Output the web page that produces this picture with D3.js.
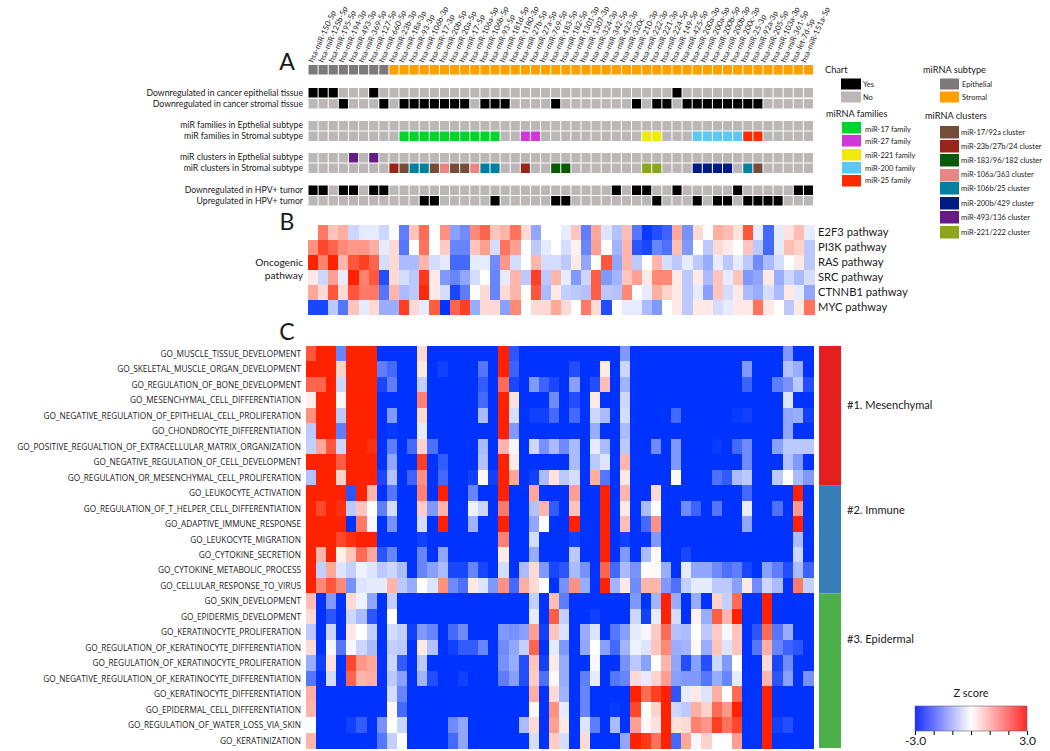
<!DOCTYPE html>
<html><head><meta charset="utf-8">
<script src="https://cdn.jsdelivr.net/npm/d3@7/dist/d3.min.js"></script>
<style>html,body{margin:0;padding:0;background:#fff}svg{display:block}text{font-family:Lato,sans-serif;fill:#1a1a1a}</style>
</head><body><svg id="chart" width="1050" height="751"></svg>
<script>
const mirnas=["hsa-miR-150-5p","hsa-miR-125b-5p","hsa-miR-195-5p","hsa-miR-194-3p","hsa-miR-493-3p","hsa-miR-369-5p","hsa-miR-127-5p","hsa-miR-660-5p","hsa-miR-23b-3p","hsa-miR-18a-3p","hsa-miR-93-3p","hsa-miR-106b-3p","hsa-miR-17-3p","hsa-miR-20b-5p","hsa-miR-20a-5p","hsa-miR-17-5p","hsa-miR-106a-5p","hsa-miR-106b-5p","hsa-miR-93-5p","hsa-miR-181d-5p","hsa-miR-1180-3p","hsa-miR-27b-5p","hsa-miR-27a-5p","hsa-miR-769-5p","hsa-miR-183-5p","hsa-miR-182-5p","hsa-miR-1301-3p","hsa-miR-1307-3p","hsa-miR-324-3p","hsa-miR-342-5p","hsa-miR-423-3p","hsa-miR-320c","hsa-miR-210-3p","hsa-miR-222-3p","hsa-miR-221-3p","hsa-miR-224-5p","hsa-miR-149-5p","hsa-miR-425-5p","hsa-miR-200a-3p","hsa-miR-200a-5p","hsa-miR-200b-5p","hsa-miR-200b-3p","hsa-miR-200c-3p","hsa-miR-25-3p","hsa-miR-92a-3p","hsa-miR-205-5p","hsa-miR-103a-3p","hsa-miR-361-5p","hsa-let-7d-5p","hsa-miR-151a-5p"];

// Panel A: column indices flagged in each annotation row
const epithelialColumns=[0,1,2,3,4,5,6,7];
const downEpithelial=[0,1,2,6,36];
const downStromal=[3,7,9,10,11,12,13,14,15,17,18,19,24,32,34,35,37,38,39,40,41,42,43,44];
const hpvDown=[0,1,3,4,6,7,30,32,33,36,42,48,49];
const hpvUp=[11,12,18,24,25,34,38,40,41,43,44,45,46];
const familyGroups=[["miR-17 family",[9,10,11,12,13,14,15,16,17,18]],["miR-27 family",[21,22]],["miR-221 family",[33,34]],["miR-200 family",[38,39,40,41,42]],["miR-25 family",[43,44]]];
const clusterGroups=[["miR-17/92a cluster",[9,12,14,15,44]],["miR-23b/27b/24 cluster",[8,21]],["miR-183/96/182 cluster",[24,25]],["miR-106a/363 cluster",[13,16]],["miR-106b/25 cluster",[10,11,17,18,43]],["miR-200b/429 cluster",[38,39,40,41]],["miR-493/136 cluster",[4,6]],["miR-221/222 cluster",[33,34]]];
const aLabels=["Downregulated in cancer epithelial tissue","Downregulated in cancer stromal tissue","miR families in Epthelial subtype","miR families in Stromal subtype","miR clusters in Epthelial subtype","miR clusters in Stromal subtype","Downregulated in HPV+ tumor","Upregulated in HPV+ tumor"];

// Panel B
const pathways=["E2F3 pathway","PI3K pathway","RAS pathway","SRC pathway","CTNNB1 pathway","MYC pathway"];
const e2f3=[0,1.8,.8,1.1,-.6,-.3,-.3,-.6,0,-1.9,.8,2,0,1.5,-1.4,-1.7,1.6,2.1,.8,1,1.9,.5,-1.3,0,0,-.3,.8,-1.9,1.2,-.4,-.9,.9,-2,-2.9,-2.6,-2.3,1.2,-1.6,.5,0,1.1,.9,.4,2.3,-.3,-2.2,-.3,.4,.9,-.3];
const pi3k=[1.5,2.5,2.1,1.6,1.4,1.4,1.1,-.3,.5,-2,0,1.9,0,.7,-1.8,-1.8,.8,1.3,-.5,1.9,1.3,0,-.8,-.3,0,-.5,.2,-1.8,1.3,0,-1.1,1,-2.5,-2.7,-1.8,-2.1,.9,-1.5,0,-.8,.5,.3,0,.8,-.8,-2.2,-.3,.9,.6,-.8];
const ras=[3,1.7,3,1,2.3,2.6,2.1,-.5,.5,-1,-1,1,-.5,-.3,-2.2,-2.2,-.3,-.3,-1.7,1.4,-.5,0,1,-.5,-.5,-.8,.3,-1.3,0,2.3,-1.3,1,-.8,0,1,-.5,-.8,-.3,-.8,-1.2,-.3,-.8,-.3,-.8,-1.7,-1,-.5,0,.3,-.8];
const src=[.3,-.6,1.3,-.3,3,1.7,2.3,-2.6,.5,-.5,-.8,2.7,.3,-1.5,-1.8,-1.3,-.5,0,-1.8,-.3,1,-.8,2.6,-.8,1,-.3,-1.5,-.6,2.2,-1.5,-1.1,.8,1.3,.3,1.6,1.6,.3,-.8,.3,-1,.8,-.3,.8,-1.5,-1.3,.3,-1.2,-.6,-1,-.5];
const ctnnb1=[1.2,.5,2.3,.5,2.3,1.8,1.8,-2,1,-1,-.8,2.9,.3,-.5,-2.7,-1.9,0,.5,-1.8,.5,1,0,2.3,-1,.3,-.7,-.8,-.9,2.2,-.8,-.9,1.6,0,-.3,1.1,.6,.3,-.8,-.3,-1.4,.8,-.5,.3,-1,-1.2,-.5,-1,.3,-.3,-1.3];
const myc=[-2.7,-2.7,-.8,-2,.8,-.3,.5,-1.2,-1.2,2.6,.5,-.3,2.2,-3,2.1,2.6,-1.2,.5,.5,-1.4,1.6,0,.5,.5,1.2,.5,0,1.8,.5,-2.6,0,-.3,-.3,-1,-1.5,0,.3,-.8,.3,.3,-.5,-.3,.3,.3,1.9,.3,0,-.8,.3,1.9];
const pathwayValues=[e2f3,pi3k,ras,src,ctnnb1,myc];

// Panel C
const goTerms=["GO_MUSCLE_TISSUE_DEVELOPMENT","GO_SKELETAL_MUSCLE_ORGAN_DEVELOPMENT","GO_REGULATION_OF_BONE_DEVELOPMENT","GO_MESENCHYMAL_CELL_DIFFERENTIATION","GO_NEGATIVE_REGULATION_OF_EPITHELIAL_CELL_PROLIFERATION","GO_CHONDROCYTE_DIFFERENTIATION","GO_POSITIVE_REGUALTION_OF_EXTRACELLULAR_MATRIX_ORGANIZATION","GO_NEGATIVE_REGULATION_OF_CELL_DEVELOPMENT","GO_REGULATION_OR_MESENCHYMAL_CELL_PROLIFERATION","GO_LEUKOCYTE_ACTIVATION","GO_REGULATION_OF_T_HELPER_CELL_DIFFERENTIATION","GO_ADAPTIVE_IMMUNE_RESPONSE","GO_LEUKOCYTE_MIGRATION","GO_CYTOKINE_SECRETION","GO_CYTOKINE_METABOLIC_PROCESS","GO_CELLULAR_RESPONSE_TO_VIRUS","GO_SKIN_DEVELOPMENT","GO_EPIDERMIS_DEVELOPMENT","GO_KERATINOCYTE_PROLIFERATION","GO_REGULATION_OF_KERATINOCYTE_DIFFERENTIATION","GO_REGULATION_OF_KERATINOCYTE_PROLIFERATION","GO_NEGATIVE_REGULATION_OF_KERATINOCYTE_DIFFERENTIATION","GO_KERATINOCYTE_DIFFERENTIATION","GO_EPIDERMAL_CELL_DIFFERENTIATION","GO_REGULATION_OF_WATER_LOSS_VIA_SKIN","GO_KERATINIZATION"];
const goScores=[
[2.3,3,3,-1.8,3,3,3,-3,-3,-3, -3,.5,-3,-3,-3,-3,-3,-3,-3,3, -2.5,-3,-3,-3,-3,-3,-3,-3,-3,-3, -3,-1.5,-3,-3,-3,-3,-3,-3,-3,-3, -3,-3,-3,-3,-3,-3,-3,-1.5,-3,-3],
[3,3,3,.6,3,3,3,-1.9,-2.2,-3, -3,.3,-3,-2.8,-3,-3,-3,-2,-3,3, -2.3,-3,-3,-3,-3,-3,-2.6,-3,-3,.3, -3,-.6,-3,-3,-3,-3,-3,-3,-3,-3, -3,-3,-3,-1.5,-3,-3,-3,-.9,-1.2,-3],
[2.1,2.1,3,-.6,3,3,3,-2.7,-1.9,-3, -3,-.7,-3,-3,-3,-3,-3,-2.4,-3,2, -2.7,-3,-1.5,-2.3,-2.7,-3,-1.4,-3,-2.6,.9, -3,-1.1,-3,-3,-3,-3,-3,-3,-3,-3, -3,-3,-3,-2.3,-3,-3,-1.9,-1.6,-.8,-2.6],
[.2,3,3,.1,3,3,3,-3,-3,-3, -3,1.7,-3,-3,-3,-3,-3,-2.2,-3,3, .4,-3,-3,-3,-1.7,-3,-2.6,-3,.3,-3, -3,-.6,-3,-3,-3,-3,-3,-3,-3,-3, -3,-3,-3,-3,-3,-3,-3,-.4,-3,-3],
[1.5,3,3,-.8,3,3,3,-3,-1.5,-3, -3,.5,-3,-3,-3,-3,-3,-1,-3,3, -.5,-3,-2.8,-2.8,-2.2,-3,-2.2,-3,-.6,-1, -3,-.5,-3,-3,-3,-3,-2.2,-3,-3,-3, -3,-3,-2.9,-2.8,-3,-3,-3,-1.3,-1.2,-2.8],
[-.8,3,3,-1.9,3,3,3,-3,-2.9,-3, -3,-.3,-3,-3,-3,-3,-3,-3,-3,3, -1.5,-3,-3,-3,-3,-3,-3,-3,-1.2,-3, -3,-1,-3,-3,-3,-3,-3,-3,-3,-3, -3,-3,-3,-3,-3,-3,-3,-1.3,-3,-3],
[-.7,1.2,2.3,-.6,3,3,2.8,-3,-1.9,-3, -2.2,.6,-2.1,-3,-3,-3,-3,-1,-3,1, -.1,-3,-.6,-1.6,-1,-1.7,-1,-3,-.3,-1, -3,-.8,-3,-3,-1.7,-3,-1.5,-3,-3,-3, -2.9,-3,-2.2,-1.7,-3,-3,-1.4,-.8,-.8,-.8],
[3,3,3,2.2,3,3,3,-3,-1.3,-3, -3,2.6,-3,-2.4,-3,-3,-3,-.9,-3,3, .3,-3,-3,-3,-3,-3,-1,-3,-.8,-.4, -3,1,-3,-3,-3,-3,-1.5,-3,-3,-3, -3,-3,-3,-1.7,-3,-3,-3,-.9,-1.5,-3],
[-.9,3,3,.6,3,3,3,-2.7,-.9,-3, -2.3,1.5,-3,-2.2,-3,-3,-2.8,.1,-2.8,3, 1.2,-3,-2.8,-1,.4,-.8,-.5,-3,1.1,-2, -3,.3,-3,-3,-3,-3,.1,-3,-3,-3, -2.1,-2.4,-1,-.8,-3,-3,-.8,0,-1,-1.5],
[3,3,3,3,-2.5,3,1,-3,-2,-3, -3,1.7,-3,3,-3,-3,-1.8,-3,-3,3, -3,-3,1.2,-3,-3,-3,1.3,-3,-3,3, -3,1,-3,-3,.5,-3,-3,-3,-3,-3, -3,-3,-3,-2.2,-3,-3,-3,-3,3,-3],
[3,2.5,3,2.8,-.8,.8,0,-1.9,-.5,-3, -3,.7,-1.5,1,-3,-3,-.2,-.6,-3,1.8, -3,-3,-.9,1,-2.4,-3,.8,-3,-3,3, -3,.3,-3,-1,0,-3,-3,-1.7,-2.3,-3, -2,-3,-3,-.3,-3,-3,-2.1,-3,1.4,-3],
[3,3,3,3,-3,1.8,-.1,-3,-1.6,-3, -3,-.5,-3,3,-3,-3,-1.1,-3,-3,3, -3,-3,-1.3,0,-3,-3,3,-3,-3,3, -3,.9,-3,-2.2,1.5,-3,-3,-3,-3,-3, -3,-3,-3,-1.3,-3,-3,-3,-3,3,-3],
[3,3,3,2.5,2.8,3,3,-3,-3,-3, -3,-2.8,-3,-3,-3,-3,-3,-3,-3,1.7, -3,-3,-.5,-3,-3,-3,-2.8,-3,-3,3, -3,-2.8,-3,-3,-1.5,-3,-3,-3,-3,-3, -3,-3,-3,-3,-3,-3,-3,-3,-1,-3],
[3,1,3,.2,.8,2,1.2,-2.5,-1.8,-3, -3,-1.8,-3,-1.3,-3,-3,-3,-3,-3,.3, -3,-3,-1.2,-3,-3,-3,-.8,-3,-3,3, -3,-1.5,-3,-1,.1,-3,-3,-2.7,-3,-3, -3,-3,-3,-3,-3,-3,-3,-3,-.6,-3],
[3,-.7,1.2,-.4,-.7,-.2,-.4,-.8,-.6,-1, -3,-1.8,-1.4,-1,-2.7,-2.7,-1.8,-2.7,-3,-.5, -3,-1,.5,-1.5,-2.7,-2.5,-1,-1.6,-3,2.1, -2.2,-1,-1.6,0,.1,-1.2,-3,-.3,-1.3,-1.3, -1.7,-2.1,-1.9,-2.7,-3,-1.4,-1.9,-2.6,-1,-2.3],
[3,1.6,2.3,1.6,-1.6,-.4,-.3,-.3,1,-.8, -1.2,0,-.4,1.5,-1.7,-2.1,.3,-.4,-1.5,1.5, -2.2,1.1,.5,0,-3,-1.6,1.5,-1.2,-3,3, -1.1,.3,-1.7,1,1,-1.5,-2.1,-.7,-.3,-.3, -.8,-.8,-1.4,.3,-1.7,-.6,-1,-3,1.8,-.7],
[.9,-3,-1.5,-3,.5,-.2,-1.3,-3,-.7,-3, -3,-3,-3,-3,-3,-3,-3,-3,-3,-3, -3,-3,-.7,-3,.9,-1.9,-3,-3,-3,-3, -3,-3,-1.5,-3,-1.1,3,-1.2,-3,-1.2,-3, .6,-.7,2,-3,-3,3,-3,-3,-3,-3],
[.5,-3,-2.5,-3,-.6,-1,-2.5,-3,0,-3, -3,-3,-3,-3,-3,-3,-3,-3,-3,-3, -3,-3,-.3,-3,2.2,-.7,-3,-3,-2.8,-3, -3,-3,-.6,-2.8,-.3,3,-.5,-3,.2,-1.2, 2.2,1,3,-3,-3,3,-3,-3,-3,-3],
[-.8,-3,-.6,-3,.3,0,-.7,-3,-.5,-.7, -2.8,-1.5,-1.8,-3,-2.2,-1.7,-3,-3,-3,-1.5, -1.6,-1.4,1.3,-2.8,.8,-.4,-3,-1.2,-.4,-3, -2,-1.4,-.3,-.1,.7,2,-.9,-1,0,-.8, .7,-.1,.8,-3,-2.5,2,-2,-1.2,-3,-3],
[.5,-3,-.1,-2,-.1,-.6,-1,-3,-.7,-.8, -3,.3,-.9,-3,-2.8,-2.4,-2.4,-1.8,-3,-1.7, -1.3,-.7,2.1,-3,-.3,-1.5,-3,-1.3,0,-1.4, -2.2,-1.1,-.2,-.4,.8,1.6,-1.2,-1.1,.1,-1.2, .8,-.4,.8,-3,-2,1.1,-1.8,-2.3,-2.5,-3],
[-1.2,-2.8,.4,-3,2.5,1.4,1.2,-3,-.6,-2.4, -3,-.8,-3,-3,-3,-3,-3,-3,-3,-1.6, -1.2,-2.6,.8,-2.8,.3,-1.2,-3,-3,-.1,-3, -3,-1.6,-.8,-1.4,0,1,-1.3,-2.6,-1.4,-2.6, -.6,-1.5,0,-3,-3,.5,-2.7,-1.7,-3,-3],
[-2,-3,-.5,-3,2.1,1,1.1,-3,-.8,-1.4, -3,-1.1,-2.6,-3,-3,-2.8,-3,-3,-3,-1.9, -1.4,-2.6,.7,-2.1,.1,-1.2,-3,-1.9,-.3,-3, -2,-1.8,.5,-.3,.6,1.3,-1.4,-1.5,-1.5,-2, -1.2,-1.8,-.3,-3,-3,1,-2.5,-1.4,-3,-1.6],
[1.1,-3,-3,-3,-3,-3,-3,-3,-.5,-1.8, -3,-3,-3,-3,-3,-3,-3,-3,-3,-3, -3,-3,1.1,-3,.5,-1.1,-3,-1.8,-3,-3, -3,-3,3,2,2.6,3,-2.5,-.3,.3,-.4, 1.1,0,2,-3,-3,3,-3,-3,-3,-3],
[1,-3,-3,-3,-3,-3,-3,-3,.1,-2.2, -3,-3,-3,-3,-3,-3,-3,-3,-3,-3, -3,-3,.1,-3,1.5,-.3,-3,-1.8,-3,-3, -2.9,-3,2.5,0,.6,3,-.6,-.8,1.1,.6, 2,1.4,3,-3,-3,3,-3,-3,-3,-3],
[0,-3,-3,-3,-2.8,-2.4,-3,-1.6,0,-.6, -3,-3,-3,-3,-1.7,-1.3,-3,-3,-3,-3, -3,-1,.5,-3,1.3,.3,-3,-.4,-1.9,-3, -1,-3,1.3,.1,.4,3,.4,.5,1.7,1.4, 2.6,1.9,2.5,-3,-3,3,-2.8,-2.6,-3,-3],
[1,-3,-3,-3,-3,-3,-3,-2,-.7,0, -3,-3,-3,-3,-2.2,-1.3,-3,-3,-3,-3, -3,-3,-.5,-3,.7,-.5,-3,.5,-3,-3, -3,-1.3,3,2.7,1.9,3,-2.2,1.2,-.1,.6, 0,0,1.3,-3,-3,3,-3,-3,-3,-3]
];
const modules=[["#1. Mesenchymal",9],["#2. Immune",7],["#3. Epidermal",10]];
const chartLegend=["Yes","No"];
const subtypeLegend=["Epithelial","Stromal"];
const zTicks=[-3,-2,-1,0,1,2,3];

// styles
const familyColors=["#00d42f","#cf37d9","#efe90c","#5cc9f5","#ff2a00"];
const clusterColors=["#754c38","#972619","#0b5a08","#e98585","#007f9f","#001a86","#661a86","#8ba51c"];
const moduleColors=["#e31f1f","#377eb8","#4daf4a"];
const noColor="#bbb7b7",yesColor="#000",epiColor="#7b7979",stromaColor="#ffa000";
const FONT_GO=9.4, GO_XSCALE=.88, FONT_A=8.7, FONT_LEG=7.5, FONT_LEGT=9.2;

const svg=d3.select("#chart");
const z=d3.scaleLinear().domain([-3,0,3]).range(["#0033ff","#ffffff","#ff2200"]);
const idx=d3.range(mirnas.length);

// Panel A
const xA=d3.scaleBand().domain(idx).range([308,813.5]).paddingInner(.1).paddingOuter(.05);
const xLabel=d3.scalePoint().domain(idx).range([313.3,805.7]);
function annotRow(top,h,colorOf){
  svg.append("g").selectAll("rect").data(idx).join("rect")
    .attr("x",d=>xA(d)).attr("y",top).attr("width",xA.bandwidth()).attr("height",h)
    .attr("fill",colorOf);
}
const memberColor=(groups,colors)=>{const m=new Map();groups.forEach((g,i)=>g[1].forEach(c=>m.set(c,colors[i])));return m;};
const famMap=memberColor(familyGroups,familyColors), cluMap=memberColor(clusterGroups,clusterColors);
const epiSet=new Set(epithelialColumns);
const flag=list=>{const s=new Set(list);return d=>s.has(d)?yesColor:noColor;};
annotRow(65,9.5,d=>epiSet.has(d)?epiColor:stromaColor);
annotRow(88,9.5,flag(downEpithelial));
annotRow(99,9.5,flag(downStromal));
annotRow(121,9.5,()=>noColor);
annotRow(131.5,9.5,d=>famMap.get(d)||noColor);
annotRow(153,9.5,d=>(epiSet.has(d)&&cluMap.get(d))||noColor);
annotRow(163.5,9.5,d=>(!epiSet.has(d)&&cluMap.get(d))||noColor);
annotRow(185.5,9.5,flag(hpvDown));
annotRow(196,9.5,flag(hpvUp));
const aLabelY=[93,104,125,136,157,168,190,201];
svg.append("g").selectAll("text").data(aLabels).join("text")
  .attr("x",303).attr("y",(d,i)=>aLabelY[i]).attr("dy",".35em").attr("text-anchor","end")
  .attr("font-size",FONT_A).text(d=>d);
svg.append("g").selectAll("text").data(mirnas).join("text")
  .attr("transform",(d,i)=>`translate(${xLabel(i)},63) rotate(-66)`)
  .attr("font-size",7.8).text(d=>d);

// Panel B
const xB=d3.scaleBand().domain(idx).range([308,814]);
const yB=d3.scaleBand().domain(pathways).range([225,314.5]);
const gB=svg.append("g").attr("shape-rendering","crispEdges");
pathways.forEach((p,r)=>{
  gB.selectAll(null).data(pathwayValues[r]).join("rect")
    .attr("x",(d,i)=>xB(i)).attr("y",yB(p)).attr("width",xB.bandwidth()+.5).attr("height",yB.bandwidth()+.5)
    .attr("fill",d=>z(d));
});
svg.append("g").selectAll("text").data(pathways).join("text")
  .attr("x",818).attr("y",d=>yB(d)+yB.bandwidth()/2).attr("dy",".35em")
  .attr("font-size",11.2).text(d=>d);
[["Oncogenic",262],["pathway",275]].forEach(([t,y])=>svg.append("text").attr("x",303).attr("y",y).attr("dy",".35em").attr("text-anchor","end").attr("font-size",10.2).text(t));

// Panel C
const xC=d3.scaleBand().domain(idx).range([305.7,813]);
const yC=d3.scaleBand().domain(goTerms).range([346,748]);
const gC=svg.append("g").attr("shape-rendering","crispEdges");
goTerms.forEach((t,r)=>{
  gC.selectAll(null).data(goScores[r]).join("rect")
    .attr("x",(d,i)=>xC(i)).attr("y",yC(t)).attr("width",xC.bandwidth()+.5).attr("height",yC.bandwidth()+.5)
    .attr("fill",d=>z(d));
});
svg.append("g").selectAll("text").data(goTerms).join("text")
  .attr("transform",d=>`translate(301,${yC(d)+yC.bandwidth()/2}) scale(${GO_XSCALE},1)`)
  .attr("dy",".35em").attr("text-anchor","end")
  .style("font-family",'"Open Sans",sans-serif')
  .attr("font-size",FONT_GO).text(d=>d);

// Module bars
let cum=0;
modules.forEach(([name,n],i)=>{
  const y0=yC(goTerms[cum]), y1=yC(goTerms[cum+n-1])+yC.bandwidth();
  svg.append("rect").attr("x",819).attr("y",y0).attr("width",22).attr("height",y1-y0).attr("fill",moduleColors[i]);
  svg.append("text").attr("x",847).attr("y",[405,510,639][i]).attr("dy",".35em").attr("font-size",11.1).text(name);
  cum+=n;
});

// Panel letters
[["A",62],["B",222],["C",332]].forEach(([t,y])=>svg.append("text").attr("x",287).attr("y",y).attr("dy",".35em").attr("text-anchor","middle").attr("font-size",23).text(t));

// Legends
const swatch=(x,y,w,h,c)=>svg.append("rect").attr("x",x).attr("y",y).attr("width",w).attr("height",h).attr("fill",c);
const ltext=(x,y,t,s)=>svg.append("text").attr("x",x).attr("y",y).attr("dy",".35em").attr("font-size",s).text(t);
ltext(825,70,"Chart",FONT_LEGT);
chartLegend.forEach((t,i)=>{swatch(841,78.5+i*13,20,11,i?noColor:yesColor);ltext(863,84+i*13,t,FONT_LEG);});
ltext(923,70,"miRNA subtype",FONT_LEGT);
subtypeLegend.forEach((t,i)=>{swatch(940,78.5+i*13,19,11,i?stromaColor:epiColor);ltext(962,84+i*13,t,FONT_LEG);});
ltext(826,114,"miRNA families",FONT_LEGT);
familyGroups.forEach((g,i)=>{swatch(842,[122,135,149,162,175][i],19,11.5,familyColors[i]);ltext(865,[129,141,155,168,180][i],g[0],FONT_LEG);});
ltext(925,116,"miRNA clusters",FONT_LEGT);
clusterGroups.forEach((g,i)=>{swatch(940,[126,140,154,169,182,197,211,226][i],19,12.5,clusterColors[i]);ltext(961,[132,146,160,174,188,203,217,232][i],g[0],FONT_LEG);});

// Colour key
const xKey=d3.scaleLinear().domain([-3,3]).range([915,1027]);
const defs=svg.append("defs").append("linearGradient").attr("id","zgrad");
defs.selectAll("stop").data([["0%","#1a2eff"],["50%","#ffffff"],["100%","#ff2a2a"]]).join("stop").attr("offset",d=>d[0]).attr("stop-color",d=>d[1]);
svg.append("rect").attr("x",xKey(-3)).attr("y",706).attr("width",xKey(3)-xKey(-3)).attr("height",25).attr("fill","url(#zgrad)").attr("stroke","#666").attr("stroke-width",.6);
const ax=svg.append("g").attr("transform","translate(0,731)").call(d3.axisBottom(xKey).tickValues(zTicks).tickSize(4).tickFormat(d=>Math.abs(d)===3?d.toFixed(1):""));
ax.select(".domain").remove();
ax.selectAll("text").attr("font-size",12).attr("font-family","Lato,sans-serif").attr("fill","#1a1a1a").attr("dy",".6em");
svg.append("text").attr("x",971).attr("y",693).attr("dy",".35em").attr("text-anchor","middle").attr("font-size",11).text("Z score");
</script></body></html>
